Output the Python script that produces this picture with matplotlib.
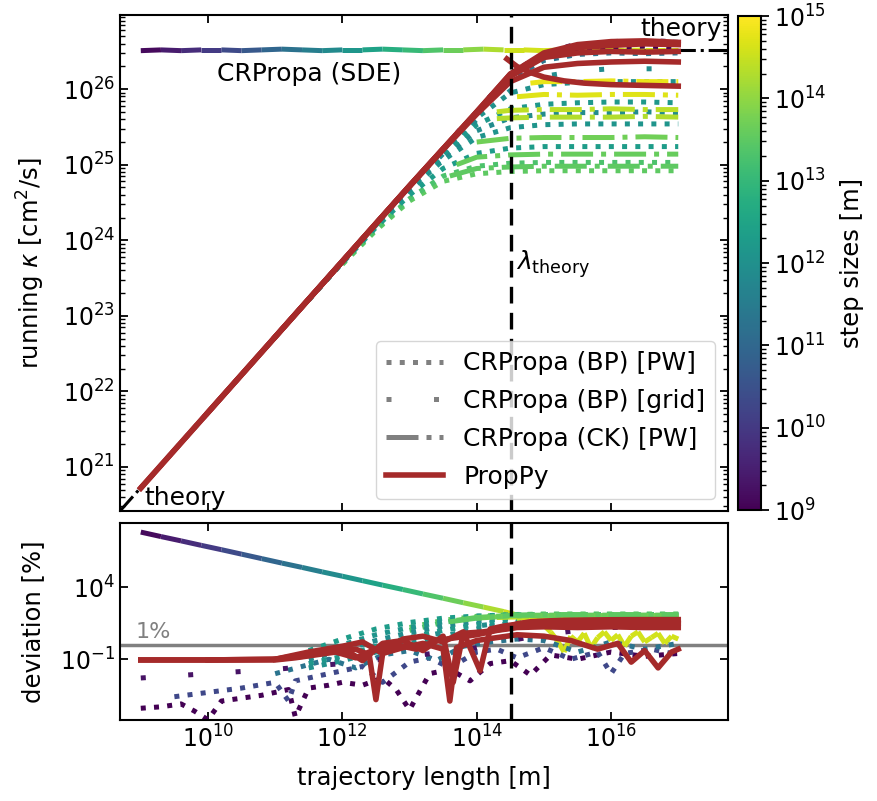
import numpy as np
import matplotlib
matplotlib.use("Agg")
import matplotlib.pyplot as plt
import matplotlib.ticker as ticker
from matplotlib.colors import LogNorm
from matplotlib.collections import LineCollection
from matplotlib.lines import Line2D

nan = np.nan

# ---- values (log10 of metres, cm^2/s and percent) ----
kappa_theory = 3.3e26
lambda_theory = 3.2e14
theory_flat_x = [1e16, 5.5e17]
theory_ball_x = [4.9e8, 1e12]
theory_ball_k = [2.6e20, 5.3e23]

# CRPropa (SDE): coloured by trajectory length
sde_logx = [9.0, 9.3, 9.6, 9.9, 10.2, 10.5, 10.8, 11.1, 11.4, 11.7, 12.0, 12.3, 12.6, 12.9,
            13.2, 13.5, 13.8, 14.1, 14.4, 14.7, 15.0, 15.3, 15.6, 15.9, 16.2, 16.5, 16.8, 17.0]
sde_logk = [26.51, 26.52, 26.51, 26.52, 26.52, 26.51, 26.52, 26.53, 26.52, 26.51, 26.52, 26.52,
            26.53, 26.52, 26.51, 26.52, 26.52, 26.53, 26.52, 26.52, 26.51, 26.52, 26.53, 26.52,
            26.51, 26.52, 26.52, 26.52]
sde_dev_logx = [9.0, 9.3, 9.6, 9.9, 10.2, 10.5, 10.8, 11.1, 11.4, 11.7, 12.0, 12.3, 12.6, 12.9,
                13.2, 13.5, 13.8, 14.1, 14.4, 14.7, 15.0, 15.1, 15.2, 15.3, 15.4, 15.5, 15.6,
                15.7, 15.8, 15.9, 16.0, 16.1, 16.2, 16.3, 16.4, 16.5, 16.6, 16.7, 16.8, 16.9, 17.0]
sde_logdev = [7.82, 7.51, 7.21, 6.9, 6.6, 6.29, 5.98, 5.67, 5.37, 5.06, 4.76, 4.45, 4.14, 3.84,
              3.53, 3.23, 2.92, 2.62, 2.31, 1.95, 1.35, 0.9, 0.3, -0.5, 0.6, 0.2, 0.8, -0.2,
              0.5, 0.9, 0.3, 0.7, -0.1, 0.6, 0.9, 0.2, 0.5, 0.8, 0.1, 0.6, 0.4]

# CRPropa (BP) [PW], step sizes > 1e11 m
pw_logx = [11.5, 12.0, 12.5, 13.0, 13.5, 14.0, 14.5, 15.0, 15.5, 16.0, 16.5, 17.0]
pw_steps = [13.5, 13.3, 12.3, 12.1, 11.9, 12.2, 12.0]
pw_logk = [
    [nan, 23.68, 24.13, 24.52, 24.78, 24.88, 24.91, 24.92, 24.92, 24.92, 24.92, 24.92],
    [nan, 23.69, 24.15, 24.55, 24.85, 24.98, 25.02, 25.03, 25.03, 25.03, 25.03, 25.03],
    [23.21, 23.70, 24.17, 24.60, 24.95, 25.15, 25.22, 25.24, 25.24, 25.24, 25.24, 25.24],
    [23.21, 23.71, 24.19, 24.66, 25.06, 25.36, 25.49, 25.53, 25.54, 25.54, 25.54, 25.54],
    [23.22, 23.71, 24.20, 24.68, 25.10, 25.45, 25.62, 25.67, 25.69, 25.69, 25.70, 25.69],
    [23.22, 23.72, 24.20, 24.69, 25.14, 25.53, 25.74, 25.80, 25.82, 25.83, 25.83, 25.82],
    [23.22, 23.72, 24.21, 24.70, 25.18, 25.62, 25.95, 26.06, 26.09, 26.10, 26.10, 26.10],
]
pw_logdev = [
    [nan, nan, nan, 1.2, 1.7, 1.98, 2.1, 2.13, 2.13, 2.13, 2.13, 2.13],
    [nan, nan, nan, 1.0, 1.55, 1.9, 2.08, 2.12, 2.12, 2.12, 2.12, 2.12],
    [-0.4, 0.4, 1.1, 1.55, 1.85, 2.0, 2.08, 2.1, 2.1, 2.1, 2.1, 2.1],
    [-0.7, 0.0, 0.7, 1.2, 1.6, 1.85, 1.98, 2.05, 2.06, 2.06, 2.06, 2.06],
    [-1.0, -0.4, 0.3, 0.85, 1.3, 1.65, 1.85, 1.98, 2.0, 2.0, 2.0, 2.0],
    [-1.3, -0.8, -0.1, 0.5, 1.0, 1.4, 1.7, 1.92, 1.95, 1.95, 1.95, 1.95],
    [-1.6, -1.1, -0.5, 0.1, 0.6, 1.1, 1.5, 1.75, 1.8, 1.8, 1.8, 1.8],
]

# CRPropa (BP) [PW], small step sizes (close to theory)
lo_steps = [9.0, 10.3, 11.3]
lo_logx = [9.0, 10.0, 11.0, 12.0, 13.0, 14.0, 14.5, 15.0, 15.5, 16.0, 16.5, 17.0]
lo_logk = [
    [20.72, 21.72, 22.72, 23.72, 24.72, 25.70, 26.17, 26.43, 26.53, 26.56, 26.57, 26.56],
    [nan, 21.72, 22.72, 23.72, 24.72, 25.70, 26.18, 26.47, 26.58, 26.62, 26.63, 26.62],
    [nan, nan, 22.72, 23.72, 24.71, 25.68, 26.14, 26.38, 26.46, 26.48, 26.47, 26.48],
]
lo_dev_logx = [
    [9.0, 9.3, 9.6, 9.8, 10.0, 10.2, 10.5, 10.8, 11.0, 11.2, 11.3, 11.5, 11.8, 12.0, 12.3,
     12.6, 12.8, 13.0, 13.3, 13.6, 13.9, 14.2, 14.5, 14.8, 15.1, 15.5, 16.0, 16.5, 17.0],
    [9.5, 10.0, 10.5, 11.0, 11.2, 11.3, 11.6, 12.0, 12.3, 12.6, 13.0, 13.3, 13.6, 14.0, 14.3,
     14.6, 15.0, 15.4, 15.8, 16.0, 16.2, 16.6, 17.0],
    [11.0, 11.4, 11.8, 12.2, 12.6, 13.0, 13.4, 13.8, 14.2, 14.6, 15.0, 15.5, 16.0, 16.5, 17.0],
]
lo_logdev = [
    [-4.4, -4.3, -4.1, -4.6, -5.2, -3.9, -3.7, -3.5, -3.3, -3.1, -5.0, -3.0, -2.8, -2.6, -2.8,
     -2.3, -3.1, -4.5, -2.0, -1.7, -2.5, -1.3, -1.1, -2.1, -0.7, -1.0, -0.5, -0.8, -0.6],
    [-3.6, -3.3, -3.0, -2.6, -3.9, -2.5, -2.2, -1.8, -1.5, -2.6, -1.2, -0.9, -1.6, -0.5, -0.3,
     -0.9, -0.2, -1.0, -0.5, -2.0, -0.6, -0.3, -0.7],
    [-2.0, -1.5, -1.0, -1.6, -0.7, -0.4, -1.1, -0.1, 0.2, 0.4, 0.3, -0.5, 0.2, -0.3, 0.1],
]

# CRPropa (BP) [grid]
grid_steps = [9.3, 11.9]
grid_logx = [
    [9.0, 10.0, 11.0, 12.0, 13.0, 14.0, 14.5, 15.0, 15.5, 16.0, 16.5, 17.0],
    [12.0, 13.0, 14.0, 14.5, 15.0, 15.5, 16.0, 16.5, 17.0],
]
grid_logk = [
    [20.72, 21.72, 22.72, 23.72, 24.72, 25.71, 26.20, 26.48, 26.60, 26.63, 26.64, 26.63],
    [23.71, 24.69, 25.60, 25.98, 26.17, 26.24, 26.27, 26.27, 26.27],
]
grid_logdev = [
    [-2.3, -2.0, -1.7, -1.3, -0.8, -0.2, 0.3, 0.7, 1.0, 1.2, 1.25, 1.25],
    [-0.6, 0.4, 1.3, 1.6, 1.7, 1.72, 1.72, 1.72, 1.72],
]

# CRPropa (CK) [PW]
ck_steps = [14.8, 14.7, 14.4, 14.3, 13.7, 13.6, 13.5]
ck_logx = [
    [14.8, 15.0, 15.5, 16.0, 16.5, 17.0],
    [14.6, 15.0, 15.5, 16.0, 16.5, 17.0],
    [14.3, 14.5, 15.0, 15.5, 16.0, 16.5, 17.0],
    [14.3, 14.5, 15.0, 15.5, 16.0, 16.5, 17.0],
    [14.0, 14.5, 15.0, 15.5, 16.0, 16.5, 17.0],
    [13.7, 14.0, 14.5, 15.0, 15.5, 16.0, 16.5, 17.0],
    [13.6, 14.0, 14.5, 15.0, 15.5, 16.0, 16.5, 17.0],
]
ck_logk = [
    [26.08, 26.10, 26.10, 26.11, 26.10, 26.10],
    [25.90, 25.93, 25.92, 25.93, 25.93, 25.92],
    [25.70, 25.72, 25.73, 25.73, 25.74, 25.73, 25.73],
    [25.61, 25.62, 25.63, 25.63, 25.63, 25.64, 25.63],
    [25.30, 25.35, 25.36, 25.36, 25.36, 25.37, 25.36],
    [25.00, 25.10, 25.13, 25.14, 25.14, 25.14, 25.14, 25.14],
    [24.85, 24.95, 24.97, 24.98, 24.98, 24.98, 24.98, 24.98],
]
ck_logdev = [
    [1.75, 1.8, 1.8, 1.81, 1.8, 1.8],
    [1.85, 1.88, 1.87, 1.88, 1.88, 1.87],
    [1.9, 1.93, 1.95, 1.95, 1.96, 1.95, 1.95],
    [1.92, 1.95, 1.98, 1.98, 1.98, 1.99, 1.98],
    [1.85, 2.0, 2.03, 2.03, 2.03, 2.04, 2.03],
    [1.7, 1.9, 2.04, 2.06, 2.06, 2.06, 2.06, 2.06],
    [1.6, 1.85, 2.05, 2.1, 2.1, 2.1, 2.1, 2.1],
]

# PropPy
pp_logx = [
    [9.0, 10.0, 11.0, 12.0, 12.5, 13.0, 13.5, 14.0, 14.5, 15.0, 15.5, 16.0, 16.5, 17.0],
    [9.0, 10.0, 11.0, 12.0, 12.5, 13.0, 13.5, 14.0, 14.5, 15.0, 15.5, 16.0, 16.5, 17.0],
    [10.0, 11.0, 12.0, 12.5, 13.0, 13.5, 14.0, 14.5, 15.0, 15.5, 16.0, 16.5, 17.0],
    [11.0, 12.0, 12.5, 13.0, 13.5, 14.0, 14.5, 15.0, 15.5, 16.0, 16.5, 17.0],
    [14.45, 14.6, 14.8, 15.0, 15.3, 15.6, 16.0, 16.5, 17.0],
]
pp_logk = [
    [20.72, 21.72, 22.72, 23.72, 24.22, 24.72, 25.21, 25.70, 26.20, 26.46, 26.55, 26.58, 26.60, 26.59],
    [20.72, 21.72, 22.72, 23.72, 24.22, 24.72, 25.21, 25.69, 26.17, 26.42, 26.48, 26.50, 26.49, 26.50],
    [21.72, 22.72, 23.72, 24.22, 24.72, 25.21, 25.70, 26.20, 26.48, 26.59, 26.63, 26.64, 26.62],
    [22.72, 23.72, 24.22, 24.71, 25.20, 25.67, 26.10, 26.29, 26.34, 26.36, 26.37, 26.36],
    [26.40, 26.30, 26.22, 26.16, 26.11, 26.08, 26.06, 26.05, 26.04],
]
pp_dev_logx = [
    [9.0, 10.0, 11.0, 11.3, 11.6, 11.9, 12.2, 12.5, 12.8, 13.1, 13.4, 13.7, 14.0, 14.3, 14.6,
     15.0, 15.5, 16.0, 16.5, 17.0],
    [9.0, 10.0, 11.0, 11.4, 11.8, 12.2, 12.4, 12.5, 12.6, 12.9, 13.2, 13.5, 13.6, 13.7, 14.0,
     14.3, 14.6, 15.0, 15.4, 15.8, 16.1, 16.3, 16.5, 16.7, 16.9, 17.0],
    [10.0, 11.0, 11.5, 12.0, 12.3, 12.6, 12.9, 13.2, 13.5, 13.65, 13.8, 14.1, 14.4, 14.7, 15.0,
     15.5, 16.0, 16.5, 17.0],
    [11.0, 11.5, 12.0, 12.3, 12.6, 12.9, 13.2, 13.5, 13.8, 14.05, 14.2, 14.4, 14.7, 15.0, 15.5,
     16.0, 16.5, 17.0],
    [14.45, 14.6, 14.8, 15.0, 15.3, 15.6, 16.0, 16.5, 17.0],
]
pp_logdev = [
    [-1.05, -1.05, -1.05, -0.9, -0.7, -0.5, -0.9, -0.3, 0.0, -0.3, 0.3, 0.5, 0.7, 1.0, 1.2,
     1.25, 1.2, 1.25, 1.2, 1.2],
    [-1.05, -1.05, -1.0, -0.8, -0.5, -0.3, -0.7, -3.8, -0.6, -0.2, 0.1, -0.3, -3.9, -0.2, 0.3,
     0.5, 0.7, 0.6, 0.3, -0.3, 0.1, -1.2, -0.4, -1.6, -0.5, -0.3],
    [-1.05, -1.0, -0.6, -0.2, -1.1, 0.1, 0.3, -0.4, 0.6, -2.6, 0.8, 0.9, 1.1, 1.3, 1.45,
     1.5, 1.48, 1.5, 1.47],
    [-1.0, -0.5, -0.1, 0.2, -0.6, 0.4, 0.6, 0.2, 0.9, -1.8, 1.1, 1.3, 1.5, 1.55, 1.5,
     1.52, 1.5, 1.5],
    [1.2, 1.45, 1.6, 1.65, 1.7, 1.72, 1.74, 1.75, 1.75],
]


def L(vals):
    return 10.0 ** np.asarray(vals, dtype=float)


plt.rcParams.update({
    "font.size": 18,
    "axes.labelsize": 17.5,
    "xtick.labelsize": 17, "ytick.labelsize": 17,
    "axes.linewidth": 1.5,
    "xtick.direction": "in", "ytick.direction": "in",
    "xtick.top": True, "ytick.right": True,
    "xtick.major.size": 6, "ytick.major.size": 6,
    "xtick.minor.size": 3.5, "ytick.minor.size": 3.5,
    "xtick.major.width": 1.3, "ytick.major.width": 1.3,
    "xtick.minor.width": 1.0, "ytick.minor.width": 1.0,
})

cmap = plt.get_cmap("viridis")
norm = LogNorm(vmin=1e9, vmax=1e15)
red = "#a52a2a"
lw = 3.6

fig = plt.figure(figsize=(8.77, 8.01), dpi=100)
ax = fig.add_axes([0.1368, 0.362, 0.6933, 0.6193])
ax2 = fig.add_axes([0.1368, 0.101, 0.6933, 0.246])
cax = fig.add_axes([0.8415, 0.363, 0.0262, 0.617])


def col(step):
    return cmap(norm(10.0 ** step))


# theory
ax.plot(theory_flat_x, [kappa_theory, kappa_theory], "-.", color="k", lw=2.2, zorder=1)
ax.plot(theory_ball_x, theory_ball_k, "-.", color="k", lw=2.2, zorder=1)


# SDE, coloured segments
def sde_segments(a, xs, ys):
    x = L(xs)
    y = L(ys)
    pts = np.column_stack([x, y])
    segs = np.stack([pts[:-1], pts[1:]], axis=1)
    mid = np.sqrt(x[:-1] * x[1:])
    lc = LineCollection(segs, colors=cmap(norm(np.clip(mid, 1e9, 10 ** 14.6))),
                        linewidths=lw, linestyles=[(0, (4.2, 1.3))], zorder=2)
    a.add_collection(lc)


sde_segments(ax, sde_logx, sde_logk)
sde_segments(ax2, sde_dev_logx, sde_logdev)

for i, s in enumerate(lo_steps):
    ax.plot(L(lo_logx), L(lo_logk[i]), ":", color=col(s), lw=lw, zorder=2)
    ax2.plot(L(lo_dev_logx[i]), L(lo_logdev[i]), ":", color=col(s), lw=lw, zorder=2)

for i, s in enumerate(pw_steps):
    ax.plot(L(pw_logx), L(pw_logk[i]), ":", color=col(s), lw=lw, zorder=2)
    ax2.plot(L(pw_logx), L(pw_logdev[i]), ":", color=col(s), lw=lw, zorder=2)

for i, s in enumerate(grid_steps):
    ax.plot(L(grid_logx[i]), L(grid_logk[i]), ls=(0, (1, 8.5)), color=col(s), lw=lw, zorder=2)
    ax2.plot(L(grid_logx[i]), L(grid_logdev[i]), ls=(0, (1, 8.5)), color=col(s), lw=lw, zorder=2)

for i, s in enumerate(ck_steps):
    ax.plot(L(ck_logx[i]), L(ck_logk[i]), "-.", color=col(s), lw=lw, zorder=2)
    ax2.plot(L(ck_logx[i]), L(ck_logdev[i]), "-.", color=col(s), lw=lw, zorder=2)

for i in range(len(pp_logx)):
    ax.plot(L(pp_logx[i]), L(pp_logk[i]), "-", color=red, lw=4, zorder=3)
    ax2.plot(L(pp_dev_logx[i]), L(pp_logdev[i]), "-", color=red, lw=4, zorder=3)

for a in (ax, ax2):
    a.axvline(lambda_theory, color="k", ls=(0, (5, 2.8)), lw=2.4, zorder=4)
    a.set_xscale("log")
    a.set_yscale("log")
    a.set_xlim(4.9e8, 5.5e17)
    a.set_xticks([1e10, 1e12, 1e14, 1e16])
    a.xaxis.set_minor_locator(ticker.NullLocator())

ax2.axhline(1.0, color="gray", lw=2.5, zorder=1)
ax2.text(10 ** 8.92, 10 ** 0.45, "1%", color="gray", fontsize=16)

ax.set_ylim(2.6e20, 9.6e26)
ax.yaxis.set_major_locator(ticker.LogLocator(base=10, numticks=20))
ax.yaxis.set_minor_locator(ticker.LogLocator(base=10, subs=np.arange(2, 10), numticks=20))
ax.yaxis.set_minor_formatter(ticker.NullFormatter())
ax.tick_params(labelbottom=False)

ax2.set_ylim(6e-6, 2.8e8)
ax2.set_yticks([1e-1, 1e4])
ax2.yaxis.set_minor_locator(ticker.NullLocator())

ax.text(10 ** 11.5, 10 ** 26.2, "CRPropa (SDE)", ha="center", va="center")
ax.text(10 ** 17.65, 10 ** 26.8, "theory", ha="right", va="center")
ax.text(10 ** 9.06, 10 ** 20.5, "theory", ha="left", va="baseline")
ax.text(10 ** 14.59, 10 ** 23.68, r"$\lambda_\mathrm{theory}$", ha="left", va="center")

ax.set_ylabel(r"running $\kappa$ [cm$^2$/s]", labelpad=11)
ax2.set_ylabel("deviation [%]", labelpad=11)
ax2.set_xlabel("trajectory length [m]", labelpad=10)
fig.align_ylabels([ax, ax2])

handles = [
    Line2D([], [], color="gray", ls=":", lw=lw, label="CRPropa (BP) [PW]"),
    Line2D([], [], color="gray", ls=(0, (1, 8.5)), lw=lw, label="CRPropa (BP) [grid]"),
    Line2D([], [], color="gray", ls="-.", lw=lw, label="CRPropa (CK) [PW]"),
    Line2D([], [], color=red, ls="-", lw=4, label="PropPy"),
]
ax.legend(handles=handles, loc="lower right", handlelength=2.3, handletextpad=0.8,
          labelspacing=0.55)

sm = plt.cm.ScalarMappable(norm=norm, cmap=cmap)
cbar = fig.colorbar(sm, cax=cax)
cbar.set_label("step sizes [m]", fontsize=17.5, labelpad=10)
cbar.ax.tick_params(which="both", direction="out", right=True, left=False)

fig.savefig("out.png", dpi=100)
